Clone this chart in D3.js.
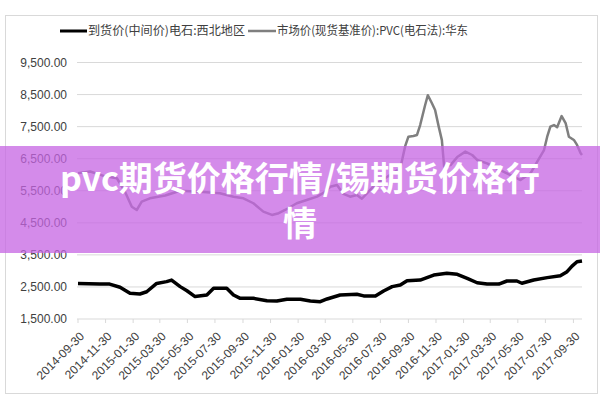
<!DOCTYPE html>
<html><head><meta charset="utf-8">
<script src="https://cdn.jsdelivr.net/npm/d3@7/dist/d3.min.js"></script>
<style>body{margin:0;background:#fff}svg{display:block}</style>
</head><body>
<svg id="c" width="600" height="400"></svg>
<script>
const seriesNames = ["到货价(中间价)电石:西北地区", "市场价(现货基准价):PVC(电石法):华东"];
const yTicks = [1500, 2500, 3500, 4500, 5500, 6500, 7500, 8500, 9500];
const xTickLabels = ["2014-09-30","2014-11-30","2015-01-30","2015-03-30","2015-05-30","2015-07-30","2015-09-30","2015-11-30","2016-01-30","2016-03-30","2016-05-30","2016-07-30","2016-09-30","2016-11-30","2017-01-30","2017-03-30","2017-05-30","2017-07-30","2017-09-30"];
const carbideDates = ["2014-09-30","2014-11-17","2014-12-09","2015-01-01","2015-01-23","2015-02-14","2015-03-01","2015-03-23","2015-04-14","2015-04-25","2015-05-14","2015-05-29","2015-06-16","2015-07-12","2015-07-27","2015-08-25","2015-09-09","2015-09-24","2015-10-23","2015-11-22","2015-12-14","2016-01-05","2016-02-04","2016-02-26","2016-03-19","2016-04-03","2016-05-02","2016-06-08","2016-06-23","2016-07-19","2016-08-06","2016-08-25","2016-09-12","2016-09-27","2016-10-26","2016-11-25","2016-12-24","2017-01-16","2017-02-07","2017-03-01","2017-03-23","2017-04-18","2017-05-06","2017-05-28","2017-06-08","2017-07-04","2017-08-03","2017-09-01","2017-09-16","2017-09-27","2017-10-08","2017-10-19"];
const carbideValues = [2610,2590,2590,2490,2300,2280,2350,2610,2665,2715,2510,2380,2200,2250,2460,2460,2250,2145,2145,2070,2060,2115,2115,2060,2040,2125,2250,2270,2220,2220,2375,2510,2560,2695,2715,2870,2925,2895,2770,2630,2590,2590,2685,2685,2615,2715,2790,2850,2975,3150,3285,3310];
const pvcDates = ["2014-09-30","2014-10-27","2014-11-29","2014-12-25","2015-01-12","2015-01-27","2015-02-07","2015-02-18","2015-03-08","2015-04-11","2015-05-14","2015-06-27","2015-08-10","2015-09-09","2015-10-01","2015-10-23","2015-11-14","2015-12-03","2015-12-18","2016-01-01","2016-01-27","2016-02-18","2016-03-12","2016-03-30","2016-04-10","2016-04-25","2016-05-09","2016-05-24","2016-06-08","2016-06-19","2016-07-19","2016-08-21","2016-09-12","2016-09-23","2016-09-30","2016-10-11","2016-10-19","2016-10-26","2016-11-06","2016-11-12","2016-11-21","2016-11-28","2016-12-06","2016-12-13","2016-12-18","2017-01-01","2017-01-16","2017-02-03","2017-02-18","2017-03-01","2017-03-23","2017-04-13","2017-05-06","2017-06-05","2017-06-27","2017-07-12","2017-07-27","2017-08-03","2017-08-10","2017-08-18","2017-08-25","2017-09-04","2017-09-13","2017-09-20","2017-10-01","2017-10-08","2017-10-16","2017-10-19"];
const pvcValues = [6050,6100,5950,5890,5470,5000,4900,5160,5265,5350,5500,5470,5420,5315,5265,5110,4850,4745,4800,4900,5110,5210,5315,5470,5625,5680,5400,5315,5370,5250,5700,6000,6200,6900,7186,7208,7240,7550,8175,8480,8230,8020,7500,7080,6250,6300,6550,6720,6615,6460,6355,6200,6045,5835,6045,6405,6770,7186,7500,7550,7480,7830,7600,7185,7085,6930,6670,6615];
const bannerLines = ["pvc期货价格行情/锡期货价格行", "情"];

const parse = d3.utcParse("%Y-%m-%d");
const svg = d3.select("#c");
svg.append("rect").attr("x",5.5).attr("y",15.5).attr("width",592).attr("height",378)
  .attr("fill","#fff").attr("stroke","#d9d9d9");

const x = d3.scaleUtc().domain([parse("2014-09-30"), parse("2017-10-19")]).range([78, 582]);
const y = d3.scaleLinear().domain([1500, 9500]).range([319, 62.5]);
const left = 77, right = 582;

svg.append("g").selectAll("line").data(yTicks).join("line")
  .attr("x1", left).attr("x2", right)
  .attr("y1", d => y(d)).attr("y2", d => y(d))
  .attr("stroke", "#d9d9d9").attr("stroke-width", 1);

svg.append("g").selectAll("text").data(yTicks).join("text")
  .attr("x", 67).attr("y", d => y(d)).attr("dy", "0.35em")
  .attr("text-anchor", "end")
  .attr("font-family", "Liberation Sans, Arial, sans-serif").attr("font-size", 12)
  .attr("fill", "#404040").text(d => d3.format(",.2f")(d));

const xt = xTickLabels.map(parse);
svg.append("g").selectAll("line").data(xt).join("line")
  .attr("x1", d => x(d)).attr("x2", d => x(d)).attr("y1", 319).attr("y2", 323)
  .attr("stroke", "#d9d9d9");
svg.append("g").selectAll("text").data(xt).join("text")
  .attr("transform", d => `translate(${x(d)+7},337) rotate(-45)`)
  .attr("text-anchor", "end")
  .attr("font-family", "Liberation Sans, Arial, sans-serif").attr("font-size", 12)
  .attr("fill", "#404040").text(d => d3.utcFormat("%Y-%m-%d")(d));

const line = d3.line().x(d => x(d[0])).y(d => y(d[1]));
const pvc = pvcDates.map((d,i) => [parse(d), pvcValues[i]]);
const carbide = carbideDates.map((d,i) => [parse(d), carbideValues[i]]);
svg.append("path").datum(pvc).attr("d", line).attr("fill","none")
  .attr("stroke","#7f7f7f").attr("stroke-width",2.5).attr("stroke-linejoin","round");
svg.append("path").datum(carbide).attr("d", line).attr("fill","none")
  .attr("stroke","#000").attr("stroke-width",3.5).attr("stroke-linejoin","round");

const lg = svg.append("g").attr("font-family","Noto Sans CJK SC, sans-serif").attr("font-size",12).attr("fill","#404040");
lg.append("line").attr("x1",60).attr("x2",87).attr("y1",31).attr("y2",31).attr("stroke","#000").attr("stroke-width",3);
lg.append("text").attr("x",88).attr("y",31).attr("dy","0.35em").attr("textLength",157).attr("lengthAdjust","spacingAndGlyphs").text(seriesNames[0]);
lg.append("line").attr("x1",248).attr("x2",276).attr("y1",31).attr("y2",31).attr("stroke","#7f7f7f").attr("stroke-width",2.5);
lg.append("text").attr("x",277).attr("y",31).attr("dy","0.35em").attr("textLength",191).attr("lengthAdjust","spacingAndGlyphs").text(seriesNames[1]);

svg.append("rect").attr("x",0).attr("y",146).attr("width",600).attr("height",107)
  .attr("fill","#c564e3").attr("fill-opacity",0.75);
svg.append("g").selectAll("text").data(bannerLines).join("text")
  .attr("x",300).attr("y",(d,i) => 191 + i*45)
  .attr("text-anchor","middle")
  .attr("font-family","Noto Sans CJK SC, sans-serif").attr("font-weight",700).attr("font-size",34)
  .attr("fill","#fff").text(d => d);
</script>
</body></html>
